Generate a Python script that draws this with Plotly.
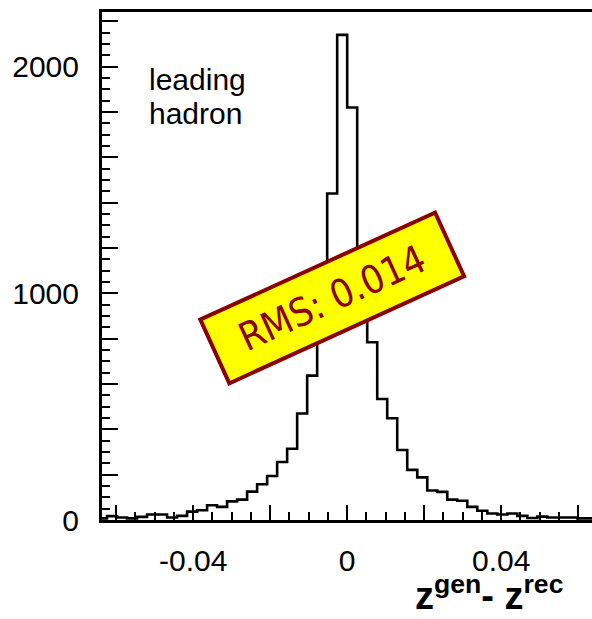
import numpy as np
import plotly.graph_objects as go

# ---- data ----
bin_lo = -0.065
bin_width = 0.0026
counts = [7, 17, 11, 7, 14, 24, 24, 11, 18, 37, 43, 65, 58, 82, 90, 125, 158, 194,
          256, 314, 470, 637, 960, 1440, 2140,
          1820, 1060, 784, 534, 449, 309, 221, 188, 130, 124, 90, 85, 58, 41, 29,
          24, 29, 18, 9, 15, 11, 11, 11, 7, 7]
x_tickvals = [-0.06, -0.04, -0.02, 0.0, 0.02, 0.04, 0.06]
x_ticktext = ["", "-0.04", "", "0", "", "0.04", ""]
y_tickvals = list(range(0, 2201, 200))
y_ticktext = ["0", "", "", "", "", "1000", "", "", "", "", "2000", ""]
label_lines = ["leading", "hadron"]
rms_text = "RMS: 0.014"
x_title = "<b>z<sup>gen</sup>- z<sup>rec</sup></b>"

edges = np.round(bin_lo + bin_width * np.arange(len(counts) + 1), 6)
xs = list(edges)
ys = counts + [counts[-1]]

fig = go.Figure()
fig.add_trace(go.Scatter(x=xs, y=ys, mode="lines",
                         line=dict(shape="hv", color="black", width=2.6),
                         hoverinfo="skip", showlegend=False))

axis_font = dict(family="Liberation Sans, Arial, sans-serif", size=30, color="black")

fig.update_layout(
    width=592, height=619,
    margin=dict(l=102, r=0, t=12, b=99),
    paper_bgcolor="white", plot_bgcolor="white",
    showlegend=False,
    xaxis=dict(range=[-0.0637, 0.0636], showgrid=False, zeroline=False,
               showline=True, linewidth=3, linecolor="black", mirror=True,
               tickmode="array", tickvals=x_tickvals, ticktext=x_ticktext,
               ticks="inside", ticklen=15, tickwidth=2, tickcolor="black",
               ticklabelstandoff=12,
               minor=dict(tickmode="linear", tick0=0, dtick=0.005, ticks="inside",
                          ticklen=8, tickwidth=2, tickcolor="black", showgrid=False),
               tickfont=axis_font),
    yaxis=dict(range=[0, 2241], showgrid=False, zeroline=False,
               showline=True, linewidth=3, linecolor="black",
               tickmode="array", tickvals=y_tickvals, ticktext=y_ticktext,
               ticks="inside", ticklen=16, tickwidth=2, tickcolor="black",
               ticklabelstandoff=14,
               minor=dict(tickmode="linear", tick0=0, dtick=50, ticks="inside",
                          ticklen=8, tickwidth=2, tickcolor="black", showgrid=False),
               tickfont=axis_font),
)

txt_font = dict(family="Liberation Sans, Arial, sans-serif", size=30, color="black")
fig.add_annotation(xref="paper", yref="paper", x=(147 - 102) / 490, y=(520 - 80) / 508,
                   text=label_lines[0], showarrow=False, xanchor="left", yanchor="middle",
                   font=txt_font)
fig.add_annotation(xref="paper", yref="paper", x=(147 - 102) / 490, y=(520 - 114) / 508,
                   text=label_lines[1], showarrow=False, xanchor="left", yanchor="middle",
                   font=txt_font)

fig.add_annotation(xref="paper", yref="paper", x=(332 - 102) / 490, y=(520 - 297.5) / 508,
                   text=rms_text, showarrow=False, xanchor="center", yanchor="middle",
                   textangle=-24.5, width=252, height=64, align="center",
                   bgcolor="#FFFF00", bordercolor="#8B0000", borderwidth=4, borderpad=1,
                   font=dict(family="DejaVu Sans Condensed, DejaVu Sans, Verdana, sans-serif",
                             size=39, color="#8B0000"))

fig.add_annotation(xref="paper", yref="paper", x=(566 - 102) / 490, y=(520 - 619) / 508,
                   text=x_title, showarrow=False, xanchor="right", yanchor="bottom",
                   font=dict(family="Liberation Sans, Arial, sans-serif", size=38, color="black"))

fig.write_html("out.html")
